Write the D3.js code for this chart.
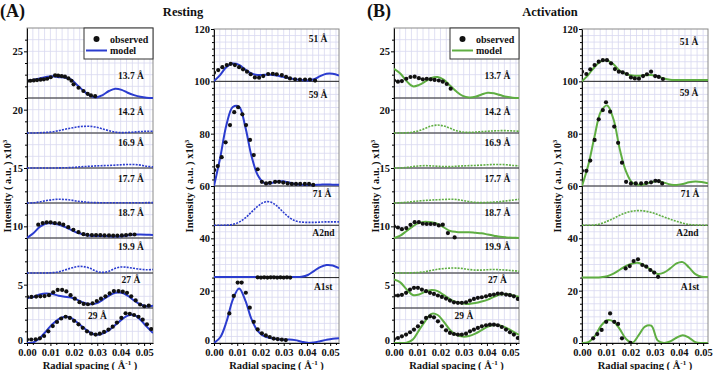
<!DOCTYPE html>
<html><head><meta charset="utf-8">
<script src="https://cdn.jsdelivr.net/npm/d3@7"></script>
<style>
body{margin:0;background:#fff}
text{font-family:"Liberation Serif","Times New Roman",serif;font-weight:bold;fill:#111}
</style>
</head><body>
<svg id="c" width="716" height="370"></svg>
<script>
// ---------------- DATA ----------------
const xTicks = [0, 0.01, 0.02, 0.03, 0.04, 0.05];
const yTicksSmall = [0, 5, 10, 15, 20, 25];
const yTicksLarge = [0, 20, 40, 60, 80, 100, 120];

// model sampling positions (Å^-1)
const xGridL = [0,0.0027,0.0054,0.0081,0.0108,0.0135,0.0161,0.0188,0.0215,0.0242,0.0269,0.0296,0.0323,0.035,0.0377,0.0404,0.043,0.0457,0.0484,0.0511,0.0538];
const xGridR = [0,0.0026,0.0052,0.0078,0.0104,0.013,0.0156,0.0182,0.0208,0.0234,0.026,0.0286,0.0312,0.0338,0.0364,0.039,0.0416,0.0442,0.0468,0.0494,0.052];

// (A) Resting, left panel — model curves
const m137A = [22.45,22.55,22.68,22.8,22.87,22.78,22.75,22.6,22.1,21.6,21.2,21.05,21.25,21.6,21.8,21.7,21.45,21.25,21.1,21.02,21.0];
const m142A = [18.0,18.0,18.02,18.05,18.1,18.2,18.32,18.42,18.52,18.57,18.57,18.5,18.35,18.2,18.08,18.03,18.05,18.08,18.12,18.15,18.15];
const m169A = [15.0,15.0,15.0,15.0,15.0,15.01,15.02,15.04,15.08,15.12,15.15,15.18,15.2,15.22,15.25,15.28,15.3,15.3,15.25,15.15,15.1];
const m177A = [12.0,12.02,12.1,12.2,12.28,12.32,12.3,12.25,12.15,12.1,12.05,12.03,12.02,12.02,12.02,12.02,12.02,12.02,12.02,12.03,12.03];
const m187A = [9.0,9.4,9.95,10.25,10.25,10.15,9.95,9.7,9.45,9.3,9.2,9.18,9.18,9.15,9.12,9.15,9.22,9.3,9.3,9.28,9.25];
const m199A = [6.0,6.0,6.0,6.0,6.03,6.1,6.25,6.42,6.55,6.55,6.4,6.15,6.05,6.15,6.4,6.52,6.48,6.4,6.32,6.28,6.3];
const m27A  = [3.85,3.95,4.15,4.25,4.2,4.05,3.97,3.9,3.7,3.45,3.32,3.4,3.7,4.05,4.3,4.3,4.05,3.65,3.3,3.15,3.2];
const m29A  = [0.0,0.05,0.4,1.0,1.6,2.05,2.25,2.15,1.75,1.3,0.9,0.7,0.8,1.1,1.55,2.0,2.35,2.4,2.0,1.4,0.85];
// observed
const obs137A = [[0,22.45],[0.0014,22.48],[0.0029,22.51],[0.0043,22.54],[0.0058,22.57],[0.0072,22.6],[0.0086,22.65],[0.0101,22.78],[0.012,22.94],[0.0133,22.91],[0.0148,22.88],[0.0162,22.83],[0.0177,22.68],[0.019,22.48],[0.0199,22.17],[0.022,21.88],[0.0241,21.6],[0.0259,21.36],[0.0273,21.22],[0.0291,21.16]];
const obs187A = [[0.0048,10.14],[0.0067,10.28],[0.0084,10.34],[0.0101,10.34],[0.0119,10.28],[0.0138,10.25],[0.0155,10.14],[0.0176,9.93],[0.0198,9.7],[0.022,9.5],[0.0241,9.33],[0.0258,9.27],[0.0277,9.25],[0.0295,9.25],[0.0313,9.25],[0.0331,9.22],[0.035,9.22],[0.0368,9.2],[0.0386,9.2],[0.0405,9.22],[0.0423,9.25],[0.0441,9.3],[0.0459,9.3]];
const obs27A = [[0,3.95],[0.0019,3.95],[0.0039,3.98],[0.0057,4.0],[0.0075,4.02],[0.0094,4.1],[0.0112,4.35],[0.0131,4.55],[0.015,4.55],[0.0168,4.42],[0.0186,4.1],[0.0204,3.8],[0.0224,3.5],[0.0242,3.35],[0.026,3.32],[0.028,3.4],[0.0298,3.6],[0.0316,3.8],[0.0335,4.0],[0.0353,4.25],[0.0371,4.45],[0.0391,4.45],[0.0409,4.4],[0.0427,4.3],[0.0445,4.0],[0.0464,3.65],[0.0483,3.3],[0.0501,3.15],[0.052,3.2]];
const obs29A = [[0,0.3],[0.0018,0.3],[0.0037,0.32],[0.0055,0.4],[0.0073,0.6],[0.0091,1.0],[0.011,1.45],[0.0128,1.8],[0.0146,2.1],[0.0165,2.25],[0.0183,2.15],[0.0201,1.9],[0.022,1.6],[0.0238,1.3],[0.0256,1.0],[0.0274,0.8],[0.0293,0.72],[0.0311,0.8],[0.0329,0.95],[0.0348,1.15],[0.0366,1.4],[0.0384,1.75],[0.0403,2.15],[0.0421,2.55],[0.0439,2.5],[0.0457,2.4],[0.0476,2.25],[0.0494,2.0],[0.0512,1.6],[0.053,1.2]];

// (A) Resting, right panel
const m51A  = [100.1,102.5,105.5,106.8,106.3,104.5,103.0,102.4,102.5,102.5,102.2,101.7,101.2,100.8,100.5,100.3,100.8,102.0,102.9,102.9,102.2];
const m59A  = [60.0,71.0,83.5,90.2,90.3,82.5,71.6,64.2,61.2,61.0,61.6,61.8,61.3,60.7,60.5,60.4,60.4,60.5,60.6,60.5,60.5];
const m71A  = [45.0,45.0,45.05,45.3,46.2,47.8,50.0,52.2,53.8,53.9,52.5,50.2,48.0,46.7,46.2,46.1,46.1,46.2,46.3,46.3,46.3];
const mA2A  = [25.2,25.2,25.2,25.2,25.2,25.2,25.2,25.2,25.2,25.2,25.2,25.2,25.2,25.2,25.3,26.0,27.5,29.0,29.8,29.6,28.6];
const mA1A  = [0.0,2.2,8.2,16.6,20.8,16.2,9.2,4.6,2.6,1.9,1.5,1.2,1.3,1.1,0.5,0.05,0.2,0.7,1.2,1.6,1.8];
const obs51A = [[0,103.3],[0.0018,104.3],[0.0036,105.4],[0.0055,106.2],[0.0072,106.7],[0.009,106.2],[0.0108,105.4],[0.0125,104.6],[0.0142,103.7],[0.0158,102.7],[0.0176,101.5],[0.0194,101.4],[0.0212,102.0],[0.0233,102.8],[0.0253,102.9],[0.027,102.7],[0.0292,102.4],[0.031,101.7],[0.0327,101.1],[0.0349,100.8],[0.037,100.7],[0.0392,100.7],[0.0413,100.7],[0.0435,100.3]];
const obs59A = [[0.0001,66.1],[0.0016,67.6],[0.0033,71],[0.005,76.7],[0.0069,83.3],[0.0087,88.2],[0.0104,90.1],[0.0122,87.4],[0.0138,83.3],[0.0155,77.6],[0.0171,71.8],[0.0188,66.4],[0.0206,61.6],[0.0224,61.0],[0.0241,61.2],[0.0263,61.6],[0.028,61.6],[0.0298,61.3],[0.0317,61.0],[0.0335,60.8],[0.0353,60.8],[0.0371,60.8],[0.0391,60.8],[0.0409,60.8],[0.0427,60.4]];
const obsA2A = [[0.0188,25.1],[0.0202,25.0],[0.0216,25.1],[0.023,25.0],[0.0244,25.1],[0.0258,25.1],[0.0272,25.0],[0.0286,25.1],[0.03,25.0],[0.0314,25.1],[0.0328,25.0]];
const obsA1A = [[0.0066,11.3],[0.0085,18.0],[0.0102,23.1],[0.0119,23.1],[0.0137,19.2],[0.0154,13.5],[0.0171,8.1],[0.0188,5.2],[0.0206,3.7],[0.0223,2.9],[0.024,2.3],[0.0257,1.7],[0.0274,1.5],[0.0292,1.3],[0.0309,1.1]];

// (B) Activation, left panel
const m137B = [23.5,23.1,22.45,22.0,22.12,22.42,22.72,22.8,22.55,22.05,21.55,21.18,21.05,21.1,21.3,21.45,21.4,21.25,21.1,21.03,21.0];
const m142B = [18.0,18.0,18.02,18.08,18.2,18.4,18.6,18.68,18.6,18.4,18.2,18.08,18.05,18.08,18.12,18.15,18.18,18.2,18.2,18.18,18.15];
const m169B = [15.0,15.0,15.05,15.12,15.18,15.2,15.18,15.15,15.12,15.12,15.15,15.18,15.2,15.22,15.25,15.28,15.3,15.3,15.28,15.22,15.18];
const m177B = [12.0,12.02,12.06,12.12,12.18,12.22,12.25,12.28,12.3,12.32,12.3,12.22,12.12,12.05,12.03,12.05,12.08,12.12,12.18,12.25,12.32];
const m187B = [9.0,9.2,9.6,10.0,10.3,10.4,10.35,10.2,9.9,9.6,9.52,9.5,9.5,9.45,9.4,9.3,9.2,9.1,9.05,9.02,9.0];
const m199B = [6.0,6.0,6.0,6.02,6.05,6.12,6.22,6.32,6.38,6.42,6.42,6.38,6.3,6.25,6.25,6.28,6.3,6.28,6.25,6.2,6.15];
const m27B  = [5.45,5.2,4.6,4.12,4.15,4.4,4.55,4.45,4.1,3.75,3.5,3.38,3.35,3.42,3.55,3.72,3.95,4.15,4.2,4.1,3.95];
const m29B  = [0.0,0.0,0.02,0.3,1.1,1.9,2.5,2.4,1.8,1.1,0.7,0.55,0.6,0.8,1.1,1.4,1.55,1.5,1.3,1.0,0.7];
const obs137B = [[0,22.5],[0.0017,22.4],[0.0034,22.45],[0.0053,22.65],[0.0071,22.8],[0.0089,22.83],[0.0107,22.7],[0.0124,22.6],[0.0141,22.65],[0.0158,22.6],[0.0175,22.55],[0.0193,22.5],[0.021,22.4],[0.0227,22.2],[0.0244,21.8]];
const obs187B = [[0,9.99],[0.0017,9.9],[0.0034,9.76],[0.0053,9.85],[0.0071,10.13],[0.0089,10.36],[0.0107,10.36],[0.0124,10.22],[0.0141,10.2],[0.0158,10.2],[0.0175,10.2],[0.0193,10.08],[0.021,10.14],[0.0232,9.42],[0.0261,9.05]];
const obs27B = [[0,4.07],[0.0017,4.07],[0.0034,4.13],[0.0052,4.3],[0.0069,4.58],[0.0086,4.73],[0.0103,4.73],[0.012,4.58],[0.0138,4.44],[0.0155,4.3],[0.0172,4.21],[0.0189,4.07],[0.0206,3.95],[0.0224,3.81],[0.0241,3.64],[0.0258,3.49],[0.0275,3.44],[0.0292,3.44],[0.031,3.49],[0.0327,3.64],[0.0344,3.78],[0.0361,3.87],[0.0378,3.92],[0.0396,4.0],[0.0413,4.1],[0.043,4.15],[0.0447,4.24],[0.0464,4.24],[0.0482,4.15],[0.0499,4.1],[0.0516,4.0],[0.0533,3.78]];
const obs29B = [[0,0.34],[0.0017,0.43],[0.0034,0.57],[0.0052,0.72],[0.0069,0.92],[0.0086,1.15],[0.0103,1.43],[0.012,1.78],[0.0138,2.15],[0.0155,2.29],[0.0172,2.2],[0.0189,1.86],[0.0206,1.43],[0.0224,1.09],[0.0241,0.86],[0.0258,0.77],[0.0275,0.72],[0.0292,0.72],[0.031,0.8],[0.0327,1.0],[0.0344,1.15],[0.0361,1.29],[0.0378,1.43],[0.0396,1.52],[0.0413,1.57],[0.043,1.57],[0.0447,1.52],[0.0464,1.37],[0.0482,1.15],[0.0499,0.92],[0.0516,0.72],[0.0533,0.43]];

// (B) Activation, right panel
const m51B  = [100.0,102.5,105.5,107.6,108.0,106.5,104.0,102.8,102.2,102.1,102.3,102.4,101.9,101.1,100.6,100.5,100.5,100.5,100.5,100.5,100.5];
const m59B  = [60.0,68.0,79.0,88.5,90.8,85.5,74.0,65.5,61.2,60.5,60.7,61.5,61.8,61.3,60.6,60.4,60.8,61.4,61.7,61.5,61.0];
const m71B  = [45.0,45.0,45.1,45.6,46.5,47.6,48.8,49.8,50.4,50.6,50.4,49.9,49.1,48.2,47.3,46.5,45.8,45.3,45.1,45.0,45.0];
const mA2B  = [25.0,25.0,25.0,25.1,25.5,26.5,28.0,29.5,30.4,30.6,29.5,27.8,26.4,26.9,28.5,30.4,30.9,28.8,26.3,25.3,25.2];
const mA1B  = [0.0,0.3,2.5,6.5,8.7,8.2,5.3,1.5,0.1,3.0,6.3,6.6,1.0,0.0,0.6,2.0,3.0,2.0,0.3,0.0,0.0];
const obs51B = [[0,103.7],[0.0018,102.8],[0.0034,104.6],[0.0052,106.2],[0.0069,107.5],[0.0086,108.1],[0.0103,108.1],[0.012,106.9],[0.0136,104.7],[0.0152,103.7],[0.0168,103.4],[0.0185,102.8],[0.0202,101.5],[0.0218,101.1],[0.0235,101.0],[0.0252,102.0],[0.0268,102.7],[0.0285,103.7],[0.0302,102.0],[0.0317,101.7],[0.0334,100.9]];
const obs59B = [[0,65.8],[0.0018,65.8],[0.0034,69.7],[0.0052,77.6],[0.0069,85.5],[0.0086,89.0],[0.0099,92.0],[0.0116,88.4],[0.0133,82.7],[0.0149,76.5],[0.0165,68.9],[0.0182,61.6],[0.0202,61.0],[0.0222,61.0],[0.0244,61.0],[0.0265,61.2],[0.0285,61.4],[0.0303,62.0],[0.0317,61.9],[0.0331,61.0]];
const obsA2B = [[0.018,28.5],[0.0197,29.4],[0.0213,31.3],[0.0231,32.0],[0.0249,29.8],[0.0265,29.2],[0.0282,27.9],[0.0298,26.9],[0.0314,25.3]];
const obsA1B = [[0.0046,1.8],[0.0063,3.4],[0.0081,5.0],[0.01,8.1],[0.0116,11.3],[0.0133,8.1],[0.0149,7.3],[0.0165,1.8],[0.02,0.1]];

// trace labels and baselines
const labelsSmall = ["13.7 Å","14.2 Å","16.9 Å","17.7 Å","18.7 Å","19.9 Å","27 Å","29 Å"];
const basesSmall  = [21, 18, 15, 12, 9, 6, 3, 0];
const labelsLarge = ["51 Å","59 Å","71 Å","A2nd","A1st"];
const basesLarge  = [100, 60, 45, 25, 0];

// ---------------- LAYOUT ----------------
const BLUE = "#2b3ccf", GREEN = "#5fae42";
const panels = [
  {left:27, right:153, top:28, bottom:343, xMax:0.0538, yMax:27, yTicks:yTicksSmall, yMinor:1, color:BLUE, xg:xGridL, yTitleX:7, legend:true,
   traces:[[m137A,obs137A,false],[m142A,null,true],[m169A,null,true],[m177A,null,true],[m187A,obs187A,false],[m199A,null,true],[m27A,obs27A,false],[m29A,obs29A,false]],
   labels:labelsSmall, bases:basesSmall,
   lab:[[0.0444,22.9],[0.0444,19.8],[0.0444,17.12],[0.0444,14.06],[0.0444,11.12],[0.0444,8.26],[0.0444,5.4],[0.0301,2.31]]},
  {left:214, right:339, top:29, bottom:343, xMax:0.0538, yMax:120, yTicks:yTicksLarge, yMinor:2.5, color:BLUE, xg:xGridL, yTitleX:189, legend:false,
   traces:[[m51A,obs51A,false],[m59A,obs59A,false],[m71A,null,true],[mA2A,obsA2A,false],[mA1A,obsA1A,false]],
   labels:labelsLarge, bases:basesLarge,
   lab:[[0.0448,116.2],[0.0448,94.8],[0.0465,56.9],[0.0471,42],[0.047,21.4]]},
  {left:394, right:519, top:28, bottom:343, xMax:0.0538, yMax:27, yTicks:yTicksSmall, yMinor:1, color:GREEN, xg:xGridL, yTitleX:375, legend:true,
   traces:[[m137B,obs137B,false],[m142B,null,true],[m169B,null,true],[m177B,null,true],[m187B,obs187B,false],[m199B,null,true],[m27B,obs27B,false],[m29B,obs29B,false]],
   labels:labelsSmall, bases:basesSmall,
   lab:[[0.0445,22.9],[0.0445,19.8],[0.0445,17.12],[0.0445,14.06],[0.0445,11.12],[0.0445,8.26],[0.0445,5.4],[0.0301,2.31]]},
  {left:582, right:708, top:29, bottom:343, xMax:0.052, yMax:120, yTicks:yTicksLarge, yMinor:2.5, color:GREEN, xg:xGridR, yTitleX:557, legend:false,
   traces:[[m51B,obs51B,false],[m59B,obs59B,false],[m71B,null,true],[mA2B,obsA2B,false],[mA1B,obsA1B,false]],
   labels:labelsLarge, bases:basesLarge,
   lab:[[0.0442,114.9],[0.0442,95.4],[0.0446,56.9],[0.0435,41.9],[0.0446,21.5]]}
];

const svg = d3.select("#c");
const fmt = d3.format(".2f");

panels.forEach((p, pi) => {
  const x = d3.scaleLinear().domain([0, p.xMax]).range([p.left, p.right]);
  const y = d3.scaleLinear().domain([0, p.yMax]).range([p.bottom, p.top]);
  const g = svg.append("g");
  const cid = "clip" + pi;
  svg.append("clipPath").attr("id", cid).append("rect")
    .attr("x", p.left).attr("y", p.top).attr("width", p.right - p.left).attr("height", p.bottom - p.top);

  // grid
  const gg = g.append("g").attr("stroke", "#d8d8f0").attr("stroke-width", 0.8);
  d3.range(0.0025, p.xMax - 1e-6, 0.0025).forEach(v =>
    gg.append("line").attr("x1", x(v)).attr("x2", x(v)).attr("y1", p.top).attr("y2", p.bottom));
  d3.range(p.yMinor, p.yMax - 1e-6, p.yMinor).forEach(v =>
    gg.append("line").attr("y1", y(v)).attr("y2", y(v)).attr("x1", p.left).attr("x2", p.right));

  // frame
  g.append("rect").attr("x", p.left).attr("y", p.top).attr("width", p.right - p.left).attr("height", p.bottom - p.top)
    .attr("fill", "none").attr("stroke", "#8a8a8a").attr("stroke-width", 1);

  // baselines
  p.bases.forEach(b => {
    if (b > 0) g.append("line").attr("x1", p.left).attr("x2", p.right).attr("y1", y(b)).attr("y2", y(b))
      .attr("stroke", "#222").attr("stroke-width", 1);
  });

  // axes
  const ax = g.append("g").attr("transform", `translate(0,${p.bottom})`)
    .call(d3.axisBottom(x).tickValues(xTicks).tickFormat(fmt).tickSize(3).tickSizeOuter(0));
  ax.select(".domain").attr("stroke", "#111");
  ax.selectAll("text").attr("font-size", 10.5).attr("dy", null).attr("y", 9.5).attr("dominant-baseline", "central");
  const axm = g.append("g").attr("transform", `translate(0,${p.bottom})`)
    .call(d3.axisBottom(x).tickValues(d3.range(0.0025, p.xMax, 0.005)).tickFormat("").tickSize(2).tickSizeOuter(0));
  axm.select(".domain").remove();

  const ay = g.append("g").attr("transform", `translate(${p.left},0)`)
    .call(d3.axisLeft(y).tickValues(p.yTicks).tickSize(3).tickSizeOuter(0).tickPadding(1));
  ay.select(".domain").attr("stroke", "#111");
  ay.selectAll("text").attr("font-size", 10.5);
  ay.selectAll(".tick").filter(d => d === 0).select("text").attr("dy", "0.05em");
  const aym = g.append("g").attr("transform", `translate(${p.left},0)`)
    .call(d3.axisLeft(y).tickValues(d3.range(p.yMinor, p.yMax, p.yMinor).filter(v => !p.yTicks.includes(v))).tickFormat("").tickSize(2).tickSizeOuter(0));
  aym.select(".domain").remove();

  // axis titles
  const xt = svg.append("text").attr("x", (p.left + p.right) / 2).attr("y", 368.5)
    .attr("text-anchor", "middle").attr("font-size", 10.5);
  xt.append("tspan").text("Radial spacing ( Å");
  xt.append("tspan").attr("font-size", 7).attr("dy", -4).text("-1");
  xt.append("tspan").attr("dy", 4).text(" )");

  const yt = svg.append("text").attr("transform", `translate(${p.yTitleX + 4},186) rotate(-90)`)
    .attr("text-anchor", "middle").attr("font-size", 10.5);
  yt.append("tspan").text("Intensity ( a.u. ) x10");
  yt.append("tspan").attr("font-size", 7).attr("dy", -4).text("3");

  // traces
  const line = d3.line().x(d => x(d[0])).y(d => y(d[1])).curve(d3.curveCatmullRom.alpha(0.5));
  const tg = g.append("g").attr("clip-path", `url(#${cid})`);
  p.traces.forEach(([model, obs, dashed]) => {
    const pts = p.xg.map((xv, i) => [xv, model[i]]);
    tg.append("path").attr("d", line(pts)).attr("fill", "none")
      .attr("stroke", p.color)
      .attr("stroke-width", dashed ? 1.6 : 2)
      .attr("stroke-dasharray", dashed ? "2,1.2" : null);
  });
  p.traces.forEach(([model, obs]) => {
    if (!obs) return;
    tg.selectAll(null).data(obs).enter().append("circle")
      .attr("cx", d => x(d[0])).attr("cy", d => y(d[1])).attr("r", 2.1).attr("fill", "#111");
  });

  // labels
  p.labels.forEach((t, i) => {
    g.append("text").attr("x", x(p.lab[i][0])).attr("y", y(p.lab[i][1]))
      .attr("text-anchor", "middle").attr("dominant-baseline", "central").attr("font-size", 9.5).text(t);
  });

  // legend
  if (p.legend) {
    const lx = p.right - 69, ly = p.top;
    const lg = g.append("g");
    lg.append("rect").attr("x", lx).attr("y", ly).attr("width", 69).attr("height", 31)
      .attr("fill", "#fff").attr("stroke", "#333").attr("stroke-width", 1);
    lg.append("circle").attr("cx", lx + 12.5).attr("cy", ly + 11).attr("r", 3).attr("fill", "#111");
    lg.append("text").attr("x", lx + 26).attr("y", ly + 11).attr("dominant-baseline", "central").attr("font-size", 10).text("observed");
    lg.append("line").attr("x1", lx + 2).attr("x2", lx + 23).attr("y1", ly + 22.5).attr("y2", ly + 22.5)
      .attr("stroke", p.color).attr("stroke-width", 2);
    lg.append("text").attr("x", lx + 26).attr("y", ly + 22.5).attr("dominant-baseline", "central").attr("font-size", 10).text("model");
  }
});

// panel titles
svg.append("text").attr("x", 0).attr("y", 17).attr("font-size", 18).text("(A)");
svg.append("text").attr("x", 367).attr("y", 17).attr("font-size", 18).text("(B)");
svg.append("text").attr("x", 183).attr("y", 16).attr("text-anchor", "middle").attr("font-size", 12.5).text("Resting");
svg.append("text").attr("x", 550).attr("y", 16).attr("text-anchor", "middle").attr("font-size", 12.5).text("Activation");
</script>
</body></html>
